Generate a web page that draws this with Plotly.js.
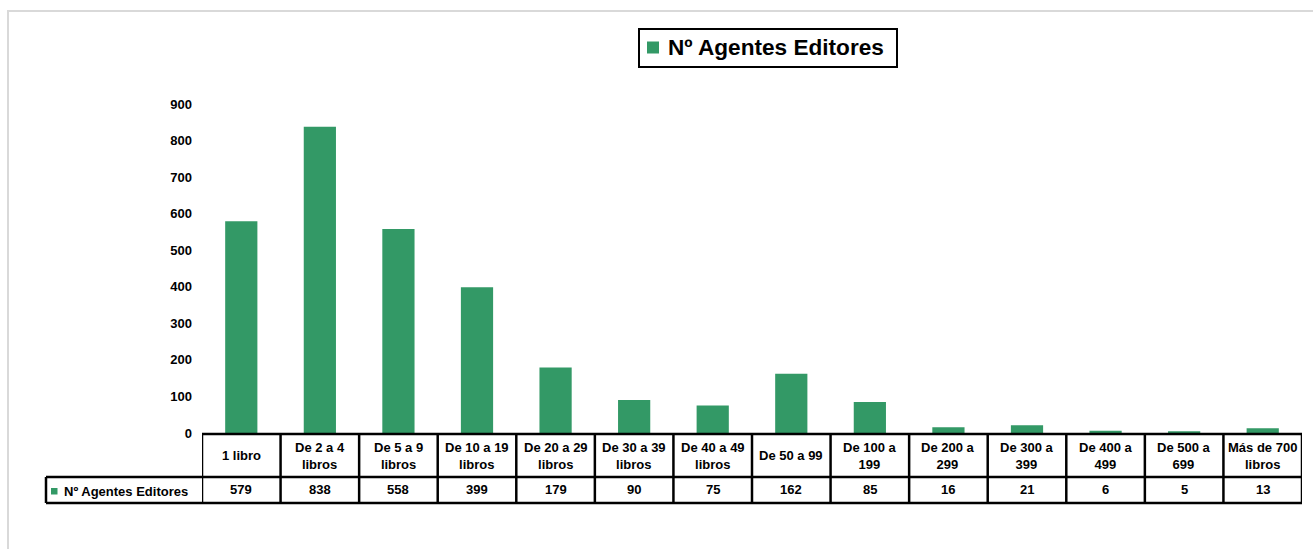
<!DOCTYPE html>
<html>
<head>
<meta charset="utf-8">
<script src="https://cdn.plot.ly/plotly-3.0.1.min.js"></script>
<style>html,body{margin:0;padding:0;background:#fff;}#chart{width:1313px;height:549px;}</style>
</head>
<body>
<div id="chart"></div>
<script>
const categories = ["1 libro","De 2 a 4<br>libros","De 5 a 9<br>libros","De 10 a 19<br>libros","De 20 a 29<br>libros","De 30 a 39<br>libros","De 40 a 49<br>libros","De 50 a 99","De 100 a<br>199","De 200 a<br>299","De 300 a<br>399","De 400 a<br>499","De 500 a<br>699","Más de 700<br>libros"];
const values = [579, 838, 558, 399, 179, 90, 75, 162, 85, 16, 21, 6, 5, 13];
const seriesName = "Nº Agentes Editores";
const yTicks = [0,100,200,300,400,500,600,700,800,900];

const W = 1313, H = 549;
const L = 202, R = 1302, T = 104, B = 433;
const px = x => (x - L) / (R - L);
const py = y => (B - y) / (B - T);

const green = '#339966';
const FONT = 'Liberation Sans, Arial, sans-serif';
const xs = categories.map((c, i) => i);

const shapes = [];
const annotations = [];
// outer chart border
shapes.push({type:'rect', xref:'paper', yref:'paper', x0:px(8), x1:px(1325), y0:py(560), y1:py(11), line:{color:'#d9d9d9', width:2}, fillcolor:'rgba(0,0,0,0)', layer:'below'});

// legend box (top)
shapes.push({type:'rect', xref:'paper', yref:'paper', x0:px(639), x1:px(897), y0:py(67), y1:py(29), line:{color:'#000', width:2}, fillcolor:'#fff'});
shapes.push({type:'rect', xref:'paper', yref:'paper', x0:px(647), x1:px(659), y0:py(53.5), y1:py(41.5), line:{width:0}, fillcolor:green});
annotations.push({xref:'paper', yref:'paper', x:px(666), y:py(47.5), xanchor:'left', yanchor:'middle', showarrow:false, text:'<b>' + seriesName + '</b>', font:{family:FONT, size:22.6, color:'#000'}});

const lw = 2.5;
const yTop = py(434), yMid = py(477), yBot = py(503);
// horizontal lines
shapes.push({type:'line', xref:'paper', yref:'paper', x0:0, x1:1, y0:yTop, y1:yTop, line:{color:'#000', width:lw}});
shapes.push({type:'line', xref:'paper', yref:'paper', x0:px(46), x1:1, y0:yMid, y1:yMid, line:{color:'#000', width:lw}});
shapes.push({type:'line', xref:'paper', yref:'paper', x0:px(46), x1:1, y0:yBot, y1:yBot, line:{color:'#000', width:lw}});
shapes.push({type:'line', xref:'paper', yref:'paper', x0:px(46), x1:px(46), y0:yMid, y1:yBot, line:{color:'#000', width:lw}});
// column dividers
for (let i = 0; i <= categories.length; i++) {
  shapes.push({type:'line', xref:'x', yref:'paper', x0:i-0.5, x1:i-0.5, y0:yTop, y1:yBot, line:{color:'#000', width:lw}});
}
// legend key in table
shapes.push({type:'rect', xref:'paper', yref:'paper', x0:px(51), x1:px(57.5), y0:py(494.5), y1:py(488), line:{width:0}, fillcolor:green});
annotations.push({xref:'paper', yref:'paper', x:px(62), y:py(491), xanchor:'left', yanchor:'middle', showarrow:false, text:'<b>' + seriesName + '</b>', font:{family:FONT, size:13, color:'#000'}});

categories.forEach((c, i) => {
  annotations.push({xref:'x', yref:'paper', x:i, y:py(455.5), xanchor:'center', yanchor:'middle', showarrow:false, text:'<b>' + c + '</b>', font:{family:FONT, size:13, color:'#000'}});
  annotations.push({xref:'x', yref:'paper', x:i, y:py(490), xanchor:'center', yanchor:'middle', showarrow:false, text:'<b>' + values[i] + '</b>', font:{family:FONT, size:13, color:'#000'}});
});

const data = [{
  type:'bar', x: xs, y: values, name: seriesName, showlegend:false,
  marker:{color: green, line:{width:0}}, width:0.41, hoverinfo:'y'
}];

const layout = {
  width: W, height: H,
  margin: {l: L, r: W - R, t: T, b: H - B, pad: 0},
  paper_bgcolor:'#fff', plot_bgcolor:'#fff',
  font:{family:FONT, color:'#000'},
  showlegend: false,
  xaxis: {range:[-0.5, categories.length - 0.5], showticklabels:false, showgrid:false, zeroline:false, showline:false, ticks:'', fixedrange:true},
  yaxis: {range:[0, 900], tickvals: yTicks, ticktext: yTicks.map(v => '<b>' + v + '</b>'), showgrid:false, zeroline:false, showline:false, ticks:'', ticklabelstandoff: 9, tickfont:{family:FONT, size:13, color:'#000'}, fixedrange:true},
  shapes: shapes,
  annotations: annotations,
  bargap: 0.59
};

Plotly.newPlot('chart', data, layout, {displayModeBar:false, staticPlot:true});
</script>
</body>
</html>
